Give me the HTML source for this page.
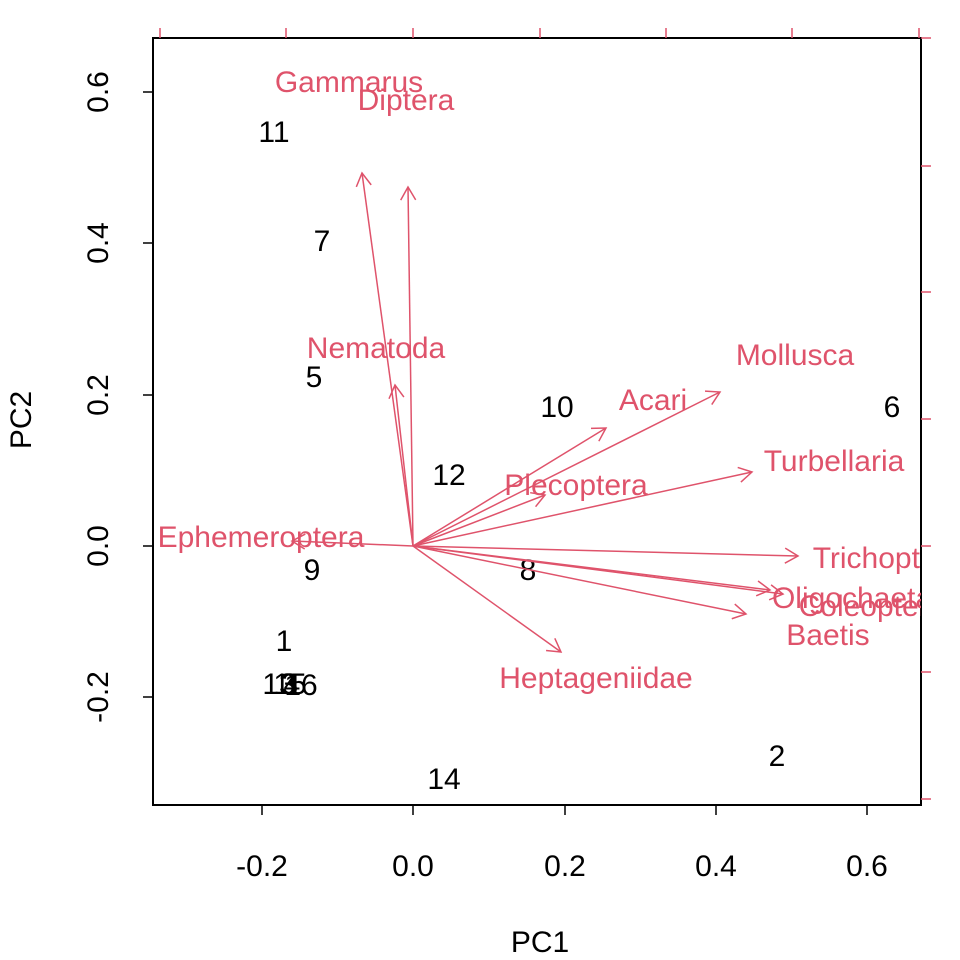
<!DOCTYPE html>
<html><head><meta charset="utf-8"><style>
html,body{margin:0;padding:0;background:#fff;}
svg{display:block;font-family:"Liberation Sans",Arial,sans-serif;}
</style></head><body>
<svg id="s" width="960" height="960" viewBox="0 0 960 960" xmlns="http://www.w3.org/2000/svg">
<defs><clipPath id="c"><rect x="153" y="38" width="768" height="767"/></clipPath></defs>
<rect x="153" y="38" width="768" height="767" fill="none" stroke="#000" stroke-width="2"/>
<g stroke="#000" stroke-width="1.5">
<line x1="262" y1="805" x2="262" y2="815"/><line x1="413" y1="805" x2="413" y2="815"/><line x1="565" y1="805" x2="565" y2="815"/><line x1="716" y1="805" x2="716" y2="815"/><line x1="867" y1="805" x2="867" y2="815"/>
<line x1="153" y1="92" x2="143" y2="92"/><line x1="153" y1="243" x2="143" y2="243"/><line x1="153" y1="395" x2="143" y2="395"/><line x1="153" y1="546" x2="143" y2="546"/><line x1="153" y1="697" x2="143" y2="697"/>
</g>
<g font-size="30" text-anchor="middle" fill="#000">
<text x="262" y="876">-0.2</text><text x="413" y="876">0.0</text><text x="565" y="876">0.2</text><text x="716" y="876">0.4</text><text x="867" y="876">0.6</text>
<text transform="translate(108,92) rotate(-90)">0.6</text><text transform="translate(108,243) rotate(-90)">0.4</text><text transform="translate(108,395) rotate(-90)">0.2</text><text transform="translate(108,546) rotate(-90)">0.0</text><text transform="translate(108,697) rotate(-90)">-0.2</text>
<text x="540" y="952">PC1</text>
<text transform="translate(31,420) rotate(-90)">PC2</text>
</g>
<g stroke="#DF536B" stroke-width="1.5" id="rt"></g>
<g font-size="30" text-anchor="middle" fill="#000" id="nums"></g>
<g clip-path="url(#c)">
<g stroke="#DF536B" stroke-width="1.5" fill="none" id="arr"></g>
<g font-size="30" text-anchor="middle" fill="#DF536B" id="lab"></g>
</g>
</svg>
<script>
var NS="http://www.w3.org/2000/svg";
function el(p,t,a,txt){var e=document.createElementNS(NS,t);for(var k in a)e.setAttribute(k,a[k]);if(txt)e.textContent=txt;document.getElementById(p).appendChild(e);}
[160,286,413,540,666,792,919].forEach(function(x){el("rt","line",{x1:x,y1:38,x2:x,y2:28});});
[38,166,292,419,546,672,799].forEach(function(y){el("rt","line",{x1:921,y1:y,x2:931,y2:y});});
var ox=413,oy=546;
var A=[["Gammarus",362,173,349,92],["Diptera",408,187,406,110],["Nematoda",395,385,376,358],["Acari",606,428,653,410],["Mollusca",720,392,795,365],["Plecoptera",545,495,576,495],["Turbellaria",752,472,834,471],["Trichoptera",798,556,888,568],["Oligochaeta",783,594,852,608],["Coleoptera",770,590,872,616],["Baetis",746,614,828,645],["Heptageniidae",561,652,596,688],["Ephemeroptera",292,541,261,547]];
A.forEach(function(a){
 var x=a[1],y=a[2];el("arr","line",{x1:ox,y1:oy,x2:x,y2:y});
 var ang=Math.atan2(y-oy,x-ox),L=15,w=Math.PI/6;
 el("arr","polyline",{points:(x-L*Math.cos(ang-w))+","+(y-L*Math.sin(ang-w))+" "+x+","+y+" "+(x-L*Math.cos(ang+w))+","+(y-L*Math.sin(ang+w))});
 el("lab","text",{x:a[3],y:a[4]},a[0]);
});
var N=[["11",274,142],["7",322,251],["5",314,387],["10",557,417],["6",892,417],["12",449,485],["8",528,580],["9",312,580],["1",284,651],["13",279,694],["3",290,694],["15",290,694],["4",292,694],["16",301,695],["2",777,766],["14",444,789]];
N.forEach(function(n){el("nums","text",{x:n[1],y:n[2]},n[0]);});
</script>
</body></html>
